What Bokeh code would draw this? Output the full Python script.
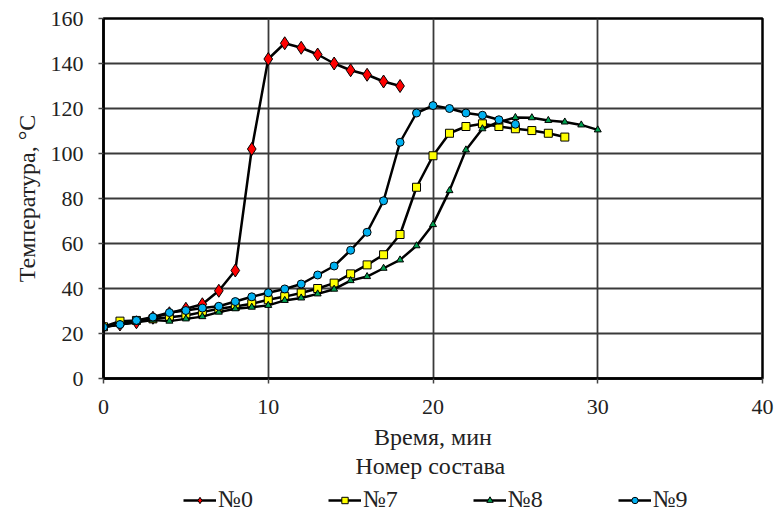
from bokeh.plotting import figure
from bokeh.layouts import column
from bokeh.models import Range1d, Legend, LegendItem, Label, FixedTicker
from bokeh.embed import file_html
from bokeh.resources import INLINE

# Data
x0 = list(range(0, 19))
t0 = [23, 24, 25, 27, 29, 31, 33, 39, 48, 102, 142, 149, 147, 144, 140, 137, 135, 132, 130]

x7 = list(range(0, 29))
t7 = [23, 25.5, 25.8, 26.5, 27.2, 28, 29.5, 31, 32, 33.2, 35, 36.4, 38, 40, 42.4, 46.5,
      50.5, 55, 64, 85, 99, 109, 112, 113.2, 112, 111, 110.2, 109, 107.3]

x8 = list(range(0, 31))
t8 = [23, 24, 25, 26, 25.5, 26.5, 27.5, 29.5, 31, 31.7, 32.5, 34.7, 35.8, 37.6, 39.7, 43.5,
      45.3, 49, 52.7, 59, 68.4, 83.5, 101.6, 111, 114, 116, 115.9, 114.7, 114, 112.7, 110.5]

x9 = list(range(0, 26))
t9 = [22.8, 24, 25.8, 27.3, 29.3, 30.2, 31.3, 32.1, 34.2, 36.3, 38.1, 39.8, 42, 46, 50, 57,
      65, 79, 105, 118, 121.3, 120, 118, 117, 115, 113]

names = ["№0", "№7", "№8", "№9"]
x_ticks = [0, 10, 20, 30, 40]
y_ticks = [0, 20, 40, 60, 80, 100, 120, 140, 160]

FONT = "Liberation Serif"
TXT = "#222222"

p = figure(width=777, height=453, output_backend="svg", toolbar_location=None,
           x_range=Range1d(0, 40), y_range=Range1d(0, 160),
           min_border_left=103, min_border_right=15, min_border_top=18, min_border_bottom=75)

p.outline_line_color = "black"
p.outline_line_width = 2.5

for ax in (p.xaxis[0], p.yaxis[0]):
    ax.major_label_text_font = FONT
    ax.major_label_text_font_size = "22px"
    ax.major_label_text_color = TXT
    ax.axis_label_text_font = FONT
    ax.axis_label_text_font_size = "24px"
    ax.axis_label_text_font_style = "normal"
    ax.axis_label_text_color = TXT
    ax.axis_line_color = "black"
    ax.axis_line_width = 2.5
    ax.major_tick_line_color = "#444444"
    ax.major_tick_line_width = 1.5
    ax.major_tick_out = 5
    ax.major_tick_in = 0
    ax.minor_tick_line_color = None

p.xaxis[0].ticker = FixedTicker(ticks=x_ticks)
p.yaxis[0].ticker = FixedTicker(ticks=y_ticks)
p.xaxis[0].axis_label = "Время, мин"
p.yaxis[0].axis_label = "Температура, °C"
p.xaxis[0].major_label_standoff = 16
p.xaxis[0].axis_label_standoff = 7
p.yaxis[0].major_label_standoff = 15
p.yaxis[0].axis_label_standoff = 8

p.xgrid.ticker = FixedTicker(ticks=x_ticks)
p.ygrid.ticker = FixedTicker(ticks=y_ticks)
for g in (p.xgrid[0], p.ygrid[0]):
    g.grid_line_color = "#3a3a3a"
    g.grid_line_width = 1.8

series = [
    (x0, t0, "diamond", "#ff0000", 13),
    (x7, t7, "square", "#ffff00", 8),
    (x8, t8, "triangle", "#00a050", 7),
    (x9, t9, "circle", "#00b0f0", 8),
]

for xs, ys, marker, color, size in series:
    p.line(xs, ys, line_color="black", line_width=2.5)
    p.scatter(xs, ys, marker=marker, size=size, fill_color=color,
              line_color="black", line_width=1)

# Legend strip below the chart: legend title + horizontal legend
lg = figure(width=777, height=62, output_backend="svg", toolbar_location=None,
            x_range=Range1d(0, 1), y_range=Range1d(0, 1),
            x_axis_type=None, y_axis_type=None, min_border=0)
lg.outline_line_color = None
lg.grid.visible = False

items = []
for (xs, ys, marker, color, size), name in zip(series, names):
    # same series drawn here only to provide legend glyphs (values lie outside this strip's range)
    ln = lg.line(xs, ys, line_color="black", line_width=2.5)
    sc = lg.scatter(xs, ys, marker=marker, size=size, fill_color=color,
                    line_color="black", line_width=1)
    items.append(LegendItem(label=name, renderers=[ln, sc]))

legend = Legend(items=items, orientation="horizontal", location=(80, 2),
                label_text_font=FONT, label_text_font_size="24px",
                label_text_color=TXT, glyph_width=33, glyph_height=16,
                label_standoff=2, spacing=75, padding=0, margin=0,
                border_line_color=None, background_fill_alpha=0)
lg.add_layout(legend, "center")

lg.add_layout(Label(x=0.496, y=0.80, text="Номер состава", text_align="center",
                    text_baseline="middle", text_font=FONT, text_font_size="24px",
                    text_color=TXT))

layout = column(p, lg, spacing=0)
open("out.html", "w").write(file_html(layout, INLINE))
